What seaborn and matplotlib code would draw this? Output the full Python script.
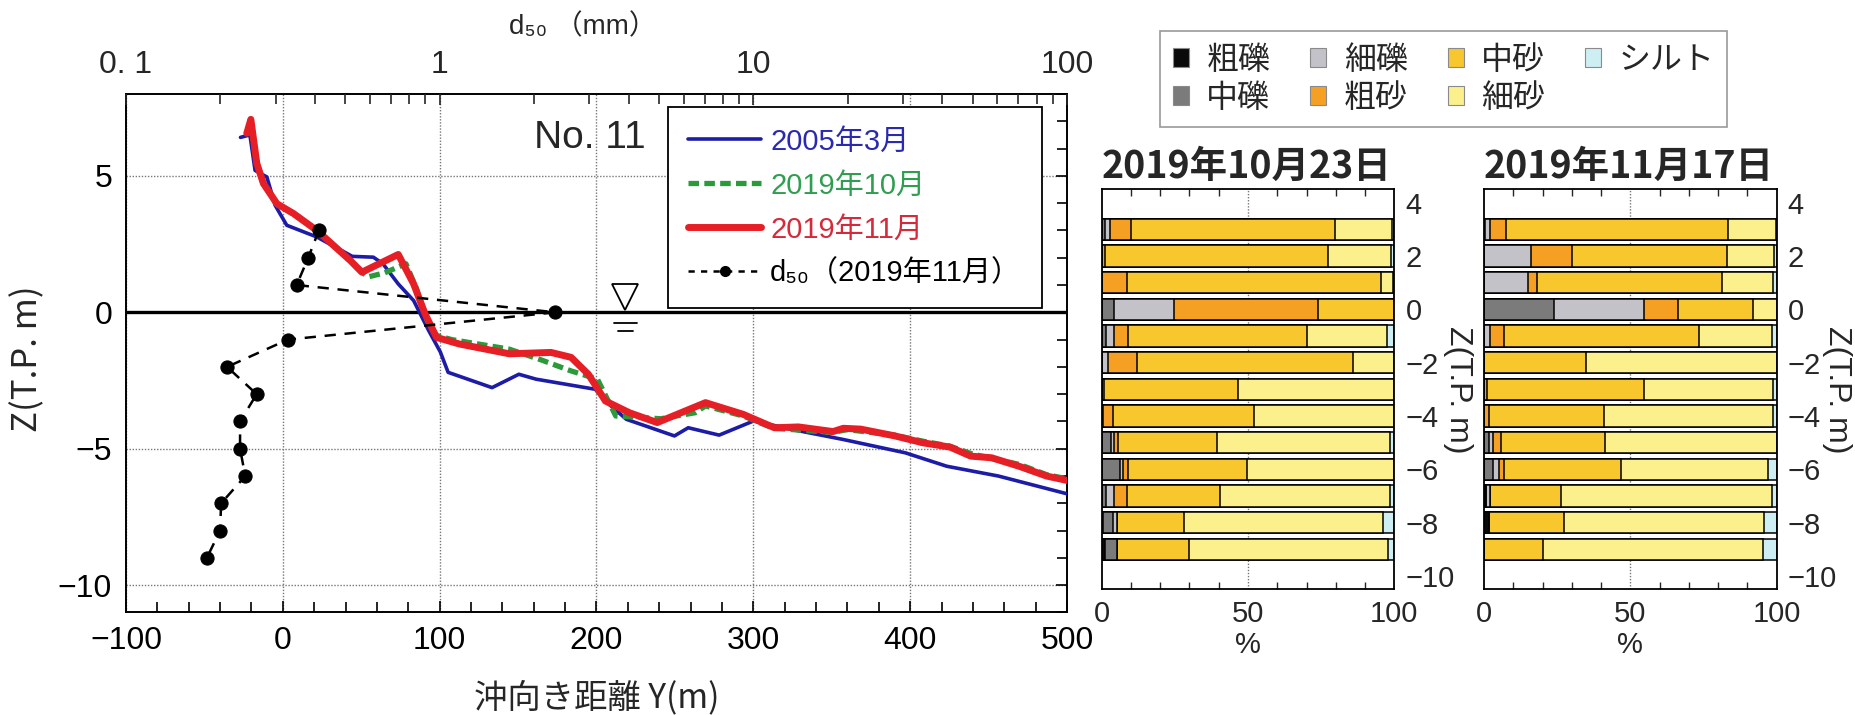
import numpy as np
import matplotlib
matplotlib.use("Agg")
import matplotlib.pyplot as plt
from matplotlib.lines import Line2D
from matplotlib.patches import Patch
from matplotlib.ticker import MultipleLocator, FixedLocator, NullFormatter, LogLocator
import seaborn as sns

sns.set_style("white")
ARIAL = ["Liberation Sans", "Noto Sans CJK JP", "DejaVu Sans"]
CJK = ["Noto Sans CJK JP", "DejaVu Sans"]
plt.rcParams["font.family"] = ARIAL
plt.rcParams["axes.unicode_minus"] = True

# ---------------- cross-shore profiles (Y: offshore distance m, Z: T.P. m) ----------------
Y_2005 = [-27, -21, -17.7, -10.2, -4.9, 2.5, 21.7, 44.3, 57.7, 63.8, 73.6, 83.4, 93, 100.4,
          105.4, 133.4, 150.5, 161.5, 199.2, 205.7, 219, 249.7, 258.5, 278.2, 300.2, 324.4,
          357.3, 397, 423.3, 456.3, 500]
Z_2005 = [6.41, 6.5, 5.2, 4.96, 3.92, 3.19, 2.76, 2.05, 2.02, 1.78, 1.04, 0.43, -0.67, -1.45,
          -2.2, -2.76, -2.27, -2.45, -2.82, -3.25, -3.92, -4.53, -4.23, -4.5, -3.98, -4.29,
          -4.66, -5.15, -5.64, -6.0, -6.65]

Y_2019_10 = [-23, -20.4, -16.6, -12.4, -3.8, 6.8, 21.7, 43, 54, 65, 78.5, 85, 92, 98, 107.8,
             144.4, 165, 183.4, 200.6, 212.3, 241, 262.9, 269.5, 293.6, 313, 350, 360, 390,
             408, 425, 440, 470, 487, 500]
Z_2019_10 = [6.5, 7.0, 5.4, 4.7, 3.95, 3.6, 3.0, 1.9, 1.29, 1.45, 1.78, 0.9, -0.3, -0.85, -1.0,
             -1.35, -1.75, -2.14, -2.45, -3.8, -3.9, -3.68, -3.43, -3.8, -4.25, -4.4, -4.3,
             -4.5, -4.72, -4.9, -5.2, -5.58, -5.95, -6.1]

Y_2019_11 = [-23, -20.4, -16.6, -12.4, -3.8, 6.8, 21.7, 43, 50.4, 73.6, 83.4, 90.7, 98, 112.5,
             144.4, 171, 183.8, 194.8, 205.7, 221, 238.7, 269.5, 293.6, 313.4, 328.8, 350.8,
             357.4, 368.4, 390.4, 408, 425.5, 438.6, 451.9, 469.4, 487, 500]
Z_2019_11 = [6.56, 7.07, 5.46, 4.72, 3.98, 3.62, 3.0, 1.9, 1.47, 2.12, 1.04, -0.06, -0.92, -1.16,
             -1.52, -1.47, -1.65, -2.27, -3.25, -3.68, -4.04, -3.31, -3.74, -4.23, -4.2, -4.37,
             -4.25, -4.28, -4.53, -4.78, -4.94, -5.27, -5.33, -5.64, -6.0, -6.16]

# median grain size d50 (mm) at each sampling elevation, Nov 2019
Z_SAMPLES = [3, 2, 1, 0, -1, -2, -3, -4, -5, -6, -7, -8, -9]
D50_2019_11 = [0.412, 0.381, 0.350, 2.34, 0.328, 0.210, 0.261, 0.231, 0.231, 0.240, 0.201,
               0.1995, 0.181]

# ---------------- grain-size composition (%) ----------------
FRACTIONS = ["粗礫", "中礫", "細礫", "粗砂", "中砂", "細砂", "シルト"]
FRACTION_COLORS = ["#0a0a0a", "#7b7b7b", "#c2c2c8", "#f6a023", "#f8c72e", "#fbf08c", "#cdeef2"]

COMP_2019_10_23 = [
    [0.0, 1.0, 2.0, 6.9, 69.8, 19.4, 0.9],
    [0.0, 0.0, 0.0, 1.0, 76.5, 21.3, 1.2],
    [0.0, 0.0, 0.0, 8.5, 86.8, 4.2, 0.5],
    [0.0, 4.3, 20.5, 49.2, 26.0, 0.0, 0.0],
    [0.0, 1.5, 2.8, 4.8, 60.9, 27.6, 2.4],
    [0.0, 0.0, 2.0, 10.2, 73.6, 14.2, 0.0],
    [0.0, 0.0, 0.0, 0.8, 45.9, 53.3, 0.0],
    [0.0, 0.0, 0.6, 3.4, 48.2, 47.8, 0.0],
    [0.0, 3.2, 1.0, 1.5, 33.8, 59.2, 1.3],
    [0.0, 6.3, 1.1, 1.7, 40.4, 50.5, 0.0],
    [0.0, 1.5, 2.8, 4.2, 31.9, 58.3, 1.3],
    [0.6, 3.4, 1.1, 0.0, 23.1, 68.0, 3.8],
    [1.0, 4.1, 0.0, 0.0, 24.9, 68.0, 2.0],
]
COMP_2019_11_17 = [
    [0.0, 0.5, 1.5, 5.4, 76.1, 16.3, 0.2],
    [0.0, 0.0, 16.1, 13.9, 52.9, 16.3, 0.8],
    [0.0, 0.0, 14.9, 3.3, 63.2, 17.5, 1.1],
    [0.0, 24.0, 30.8, 11.6, 25.6, 8.0, 0.0],
    [0.0, 0.0, 2.0, 4.8, 66.8, 24.9, 1.5],
    [0.0, 0.0, 0.0, 0.0, 34.9, 65.1, 0.0],
    [0.0, 0.0, 0.0, 0.9, 53.9, 44.1, 1.1],
    [0.0, 0.0, 0.0, 1.8, 39.2, 57.9, 1.1],
    [0.0, 1.8, 1.4, 2.6, 35.5, 58.7, 0.0],
    [0.0, 3.0, 2.1, 1.8, 39.8, 50.5, 2.8],
    [0.7, 0.0, 1.3, 0.0, 24.2, 72.3, 1.5],
    [1.8, 0.0, 0.0, 0.0, 25.6, 68.4, 4.2],
    [0.0, 0.0, 0.0, 0.0, 20.0, 75.4, 4.6],
]

SERIES_LABELS = ["2005年3月", "2019年10月", "2019年11月", "d₅₀（2019年11月）"]
BLUE, GREEN, RED = "#1c1ca6", "#2a9a3a", "#e61e25"
TEXT_COLORS = ["#2a2ab0", "#2f9e50", "#d42a3a", "black"]
D50_TICKS = [0.1, 1, 10, 100]
D50_TICK_LABELS = ["0. 1", "1", "10", "100"]
WATER_MARK_Y = 218  # offshore position of the still-water-level symbol (m)

fig = plt.figure(figsize=(18.56, 7.15), dpi=100)
fig.patch.set_facecolor("white")

# ================= profile panel =================
ax = fig.add_axes([0.06789, 0.14336, 0.50700, 0.72517])
sns.lineplot(x=Y_2005, y=Z_2005, sort=False, estimator=None, color=BLUE, lw=2.6, ax=ax, zorder=3)
sns.lineplot(x=Y_2019_10, y=Z_2019_10, sort=False, estimator=None, color=GREEN, lw=3.8,
             linestyle=(0, (2.0, 1.0)), ax=ax, zorder=4)
sns.lineplot(x=Y_2019_11, y=Z_2019_11, sort=False, estimator=None, color=RED, lw=5.0, ax=ax, zorder=5)

ax.set_xlim(-100, 500)
ax.set_ylim(-11, 8)
ax.xaxis.set_major_locator(MultipleLocator(100))
ax.xaxis.set_minor_locator(MultipleLocator(20))
ax.yaxis.set_major_locator(FixedLocator([-10, -5, 0, 5]))
ax.yaxis.set_minor_locator(MultipleLocator(1))
ax.grid(which="major", color="#777777", linestyle=(0, (1, 1.2)), lw=1.0)
ax.axhline(0, color="black", lw=2.4, zorder=2)
ax.tick_params(which="both", direction="in", top=False, right=True, width=1.2,
               labelsize=23, colors="black")
ax.tick_params(which="major", length=8, pad=10)
ax.tick_params(which="minor", length=7)
for sp in ax.spines.values():
    sp.set_linewidth(1.4)
    sp.set_color("black")

ax.set_xlabel("沖向き距離 Y(m)", fontsize=24, family=CJK, va="center")
ax.xaxis.set_label_coords(0.5, -0.165)
ax.set_ylabel("Z(T.P. m)", fontsize=25, family=CJK, va="center")
ax.yaxis.set_label_coords(-0.104, 0.489)

ax.text(0.552, 0.915, "No. 11", transform=ax.transAxes, ha="right", va="center", fontsize=28)

# still water level symbol
ax.plot([WATER_MARK_Y], [0.55], marker="v", markersize=19, markerfacecolor="white",
        markeredgecolor="black", markeredgewidth=1.3, zorder=6)
ax.plot([WATER_MARK_Y - 7, WATER_MARK_Y + 8], [-0.38, -0.38], color="black", lw=1.3, zorder=6)
ax.plot([WATER_MARK_Y - 4, WATER_MARK_Y + 5], [-0.67, -0.67], color="black", lw=1.3, zorder=6)

# d50 on a logarithmic upper axis
ax2 = ax.twiny()
ax2.set_xscale("log")
ax2.set_xlim(0.1, 100)
sns.lineplot(x=D50_2019_11, y=Z_SAMPLES, sort=False, estimator=None, color="black", lw=1.8,
             linestyle=(0, (4.5, 3.5)), marker="o", markersize=9.5, markeredgecolor="black",
             ax=ax2, zorder=7)
ax2.set_ylim(-11, 8)
ax2.set_xlabel("")
ax2.set_ylabel("")
ax2.xaxis.set_major_locator(FixedLocator(D50_TICKS))
ax2.set_xticklabels(D50_TICK_LABELS)
ax2.xaxis.set_minor_locator(LogLocator(base=10, subs=np.arange(2, 10)))
ax2.xaxis.set_minor_formatter(NullFormatter())
ax2.tick_params(axis="x", which="both", direction="in", top=True, bottom=False,
                labeltop=True, labelbottom=False, labelsize=23, width=1.2, pad=10)
ax2.tick_params(axis="x", which="major", length=8)
ax2.tick_params(axis="x", which="minor", length=7)
for sp in ax2.spines.values():
    sp.set_visible(False)
fig.text(583 / 1856, 1 - 27 / 715, "d₅₀ （mm）", ha="center", va="center", fontsize=20)

handles = [
    Line2D([], [], color=BLUE, lw=2.6),
    Line2D([], [], color=GREEN, lw=3.8, linestyle=(0, (2.0, 1.0))),
    Line2D([], [], color=RED, lw=5.0),
    Line2D([], [], color="black", lw=1.8, linestyle=(0, (2.5, 2.5)), marker="o", markersize=7),
]
leg = ax.legend(handles, SERIES_LABELS, loc="upper right", bbox_to_anchor=(0.973, 0.975),
                borderaxespad=0, fontsize=21, frameon=True, fancybox=False, framealpha=1,
                edgecolor="black", handlelength=2.5, handletextpad=0.3, labelspacing=0.55,
                borderpad=0.7, numpoints=1)
leg.get_frame().set_linewidth(1.3)
for txt, c in zip(leg.get_texts(), TEXT_COLORS):
    txt.set_color(c)
leg.set_zorder(8)

# ================= composition panels =================
def composition_panel(rect, comp, title, label_x):
    axb = fig.add_axes(rect)
    cum = np.cumsum(np.asarray(comp), axis=1)
    for k in reversed(range(len(FRACTIONS))):
        sns.barplot(x=cum[:, k], y=Z_SAMPLES, orient="h", native_scale=True, width=0.8,
                    color=FRACTION_COLORS[k], saturation=1, errorbar=None,
                    edgecolor="black", linewidth=1.1, ax=axb)
    axb.axvline(50, color="#777777", linestyle=(0, (1, 1.2)), lw=1.0, zorder=0.5)
    axb.set_xlim(0, 100)
    axb.set_ylim(-10.5, 4.5)
    axb.set_xticks([0, 50, 100])
    axb.xaxis.set_minor_locator(MultipleLocator(10))
    axb.set_yticks(list(range(4, -11, -2)))
    axb.yaxis.tick_right()
    axb.yaxis.set_label_position("right")
    axb.tick_params(axis="x", which="both", direction="in", top=True, bottom=True,
                    width=1.0, labelsize=21, pad=8)
    axb.tick_params(axis="x", which="major", length=0)
    axb.tick_params(axis="x", which="minor", length=5)
    axb.tick_params(axis="y", length=0, pad=8, labelsize=21)
    axb.set_xlabel("%", fontsize=21, labelpad=2)
    axb.set_ylabel("Z(T.P. m)", fontsize=23, rotation=270, rotation_mode="anchor",
                   ha="center", va="center")
    axb.yaxis.set_label_coords(label_x, 0.5)
    axb.set_title(title, loc="left", fontsize=27, fontweight="bold", family=CJK, pad=8)
    for sp in axb.spines.values():
        sp.set_linewidth(1.3)
        sp.set_color("black")
    return axb


composition_panel([0.59359, 0.17580, 0.15765, 0.55944], COMP_2019_10_23, "2019年10月23日", 1.218)
composition_panel([0.79957, 0.17580, 0.15770, 0.55944], COMP_2019_11_17, "2019年11月17日", 1.207)

legend_handles = [Patch(facecolor=c, edgecolor="#8a8a8a", linewidth=0.8) for c in FRACTION_COLORS]
fleg = fig.legend(legend_handles, FRACTIONS, ncol=4, loc="upper left",
                  bbox_to_anchor=(1144 / 1856, 1 - 15 / 715), prop={"family": CJK, "size": 23},
                  frameon=True, fancybox=False, framealpha=1, edgecolor="#999999",
                  handlelength=0.5, handleheight=0.55, handletextpad=0.55, columnspacing=1.25,
                  labelspacing=0.2, borderpad=0.4)
fleg.get_frame().set_linewidth(1.2)

fig.savefig("out.png", dpi=100, facecolor="white")
